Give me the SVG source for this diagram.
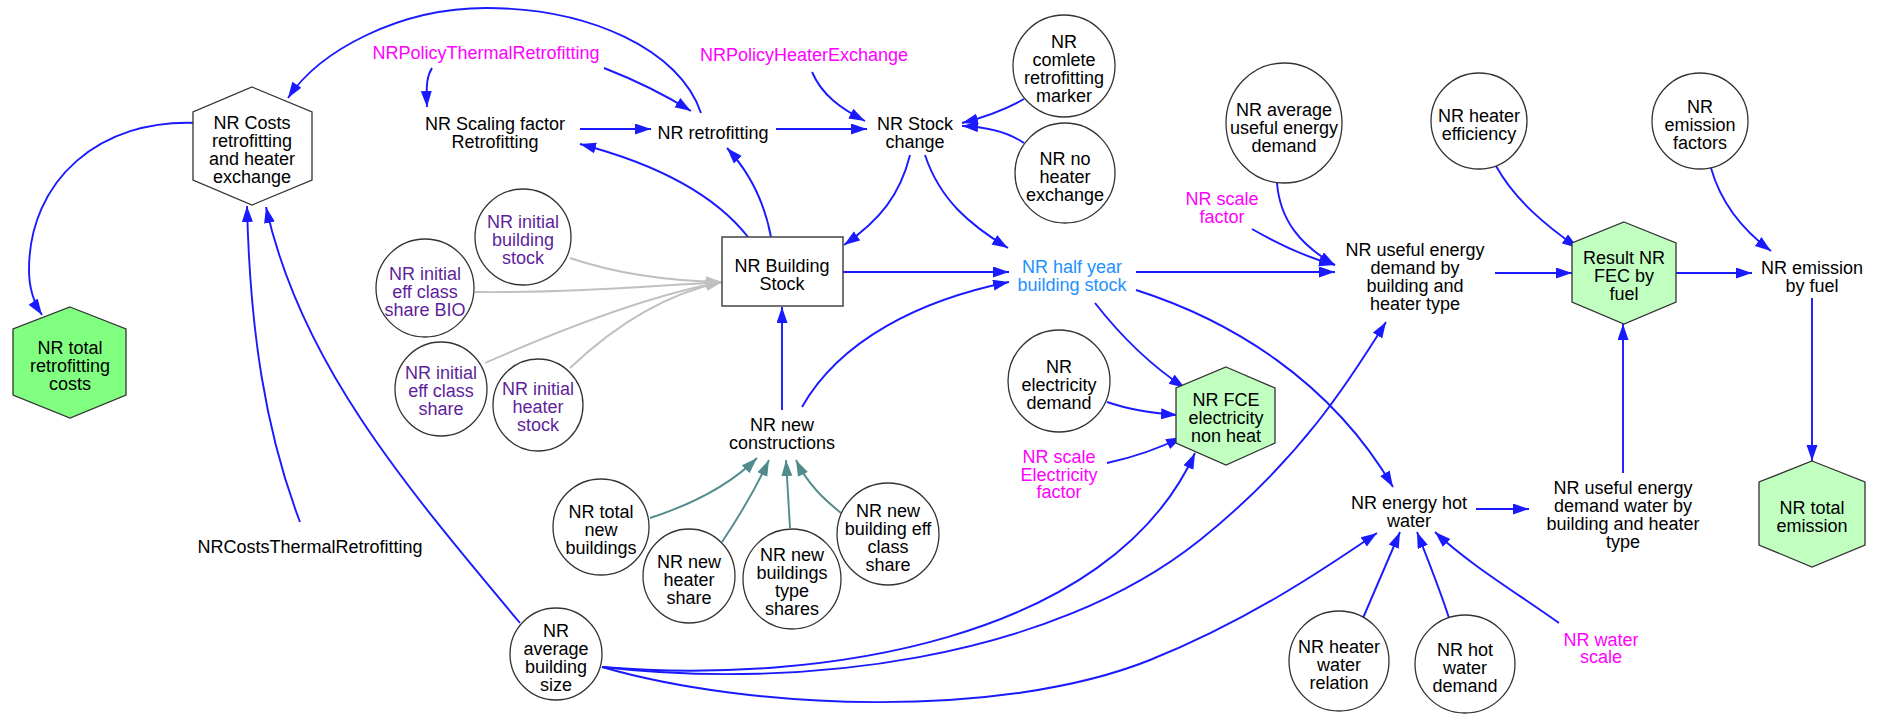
<svg xmlns="http://www.w3.org/2000/svg" width="1883" height="715" viewBox="0 0 1883 715">
<style>
text{font-family:"Liberation Sans",Arial,sans-serif;font-size:18px;text-anchor:middle;fill:#000}
.m{fill:#ff00ff}
.p{fill:#5e1f9c}
.lb{fill:#1e90ff}
.c{fill:#fff;stroke:#333;stroke-width:1.3}
.hw{fill:#fff;stroke:#333;stroke-width:1.3}
.hg{fill:#c1ffc1;stroke:#333;stroke-width:1.3}
.hb{fill:#80ff80;stroke:#333;stroke-width:1.3}
.e{fill:none;stroke:#1a1aff;stroke-width:1.9;marker-end:url(#ab)}
.g{fill:none;stroke:#c0c0c0;stroke-width:1.9;marker-end:url(#ag)}
.t{fill:none;stroke:#528b8b;stroke-width:1.9;marker-end:url(#at)}
</style>
<defs>
<marker id="ab" markerUnits="userSpaceOnUse" markerWidth="17" markerHeight="12" refX="16" refY="5.5" orient="auto"><path d="M0,0 L16,5.5 L0,11 z" fill="#1a1aff"/></marker>
<marker id="ag" markerUnits="userSpaceOnUse" markerWidth="17" markerHeight="12" refX="16" refY="5.5" orient="auto"><path d="M0,0 L16,5.5 L0,11 z" fill="#c0c0c0"/></marker>
<marker id="at" markerUnits="userSpaceOnUse" markerWidth="17" markerHeight="12" refX="16" refY="5.5" orient="auto"><path d="M0,0 L16,5.5 L0,11 z" fill="#528b8b"/></marker>
</defs>
<rect width="1883" height="715" fill="#fff"/>
<g id="edges">
<path class="e" d="M432,68 C427,76 426,84 427,107"/>
<path class="e" d="M604,68 C640,82 670,98 691,111"/>
<path class="e" d="M701,113 C680,50 590,8 486,8 C400,8 320,50 288,98"/>
<path class="e" d="M580,129 L651,129"/>
<path class="e" d="M748,237 C715,195 660,165 580,144"/>
<path class="e" d="M771,237 C765,205 752,175 727,148"/>
<path class="e" d="M776,129 L867,129"/>
<path class="e" d="M812,72 C822,95 840,108 865,121"/>
<path class="e" d="M1024,99 C1005,110 985,117 962,123"/>
<path class="e" d="M1024,143 C1008,132 988,127 962,126"/>
<path class="e" d="M910,155 C900,195 880,220 844,245"/>
<path class="e" d="M925,155 C940,200 970,225 1008,248"/>
<path class="e" d="M843,272 L1009,272"/>
<path class="e" d="M802,407 C840,340 920,300 1009,282"/>
<path class="e" d="M1136,272 L1335,272"/>
<path class="e" d="M1095,303 C1120,335 1150,365 1185,388"/>
<path class="e" d="M1136,290 C1230,320 1330,380 1393,487"/>
<path class="e" d="M1107,402 C1130,410 1150,413 1177,415"/>
<path class="e" d="M1107,463 C1135,457 1160,448 1182,437"/>
<path class="e" d="M602,667 C820,685 1110,640 1195,453"/>
<path class="e" d="M602,667 C800,690 1050,660 1200,540 C1300,460 1350,380 1386,322"/>
<path class="e" d="M602,667 C750,710 1000,720 1150,660 C1250,620 1330,565 1377,533"/>
<path class="e" d="M520,623 C400,480 300,360 266,207"/>
<path class="e" d="M300,522 C265,430 250,330 247,206"/>
<path class="e" d="M198,123 C100,118 29,180 29,270 C29,290 34,303 42,315"/>
<path class="g" d="M570,258 C620,275 670,281 722,282"/>
<path class="g" d="M475,292 C560,293 640,287 722,282"/>
<path class="g" d="M485,363 C560,330 650,295 722,282"/>
<path class="g" d="M570,368 C610,330 660,295 722,282"/>
<path class="t" d="M650,518 C690,505 730,485 757,458"/>
<path class="t" d="M722,542 C740,515 755,490 769,460"/>
<path class="t" d="M790,528 L786,460"/>
<path class="t" d="M841,513 C825,500 808,485 796,460"/>
<path class="e" d="M782,410 L782,307"/>
<path class="e" d="M1277,183 C1280,220 1300,245 1335,265"/>
<path class="e" d="M1252,229 C1280,245 1305,257 1335,265"/>
<path class="e" d="M1495,273 L1572,273"/>
<path class="e" d="M1496,166 C1515,200 1545,225 1578,248"/>
<path class="e" d="M1676,273 L1752,273"/>
<path class="e" d="M1711,168 C1720,200 1740,228 1771,251"/>
<path class="e" d="M1812,298 L1812,461"/>
<path class="e" d="M1623,473 L1623,324"/>
<path class="e" d="M1476,509 L1529,509"/>
<path class="e" d="M1363,618 C1375,590 1388,560 1400,532"/>
<path class="e" d="M1449,618 C1440,590 1428,560 1417,532"/>
<path class="e" d="M1559,623 C1520,595 1470,565 1435,532"/>
</g>
<g id="n_costs"><polygon class="hw" points="252,87 312,112 312,180 252,205 193,180 193,112"/><text x="252" y="129">NR Costs</text><text x="252" y="147">retrofitting</text><text x="252" y="165">and heater</text><text x="252" y="183">exchange</text></g>
<g id="n_totalretro"><polygon class="hb" points="70,307 126,329 126,395 70,418 13,395 13,329"/><text x="70" y="354">NR total</text><text x="70" y="372">retrofitting</text><text x="70" y="390">costs</text></g>
<g id="n_policythermal"><text class="m" x="486" y="59">NRPolicyThermalRetrofitting</text></g>
<g id="n_scaling"><text x="495" y="130">NR Scaling factor</text><text x="495" y="148">Retrofitting</text></g>
<g id="n_retrofitting"><text x="713" y="139">NR retrofitting</text></g>
<g id="n_policyheater"><text class="m" x="804" y="61">NRPolicyHeaterExchange</text></g>
<g id="n_stockchange"><text x="915" y="130">NR Stock</text><text x="915" y="148">change</text></g>
<g id="n_complete"><ellipse class="c" cx="1064" cy="66" rx="51" ry="51"/><text x="1064" y="48">NR</text><text x="1064" y="66">comlete</text><text x="1064" y="84">retrofitting</text><text x="1064" y="102">marker</text></g>
<g id="n_noheater"><ellipse class="c" cx="1065" cy="173" rx="50" ry="50"/><text x="1065" y="165">NR no</text><text x="1065" y="183">heater</text><text x="1065" y="201">exchange</text></g>
<g id="n_buildingstock"><rect x="722" y="237" width="121" height="69" fill="#fff" stroke="#444" stroke-width="1.5"/><text x="782" y="272">NR Building</text><text x="782" y="290">Stock</text></g>
<g id="n_halfyear"><text class="lb" x="1072" y="273">NR half year</text><text class="lb" x="1072" y="291">building stock</text></g>
<g id="n_elecdemand"><ellipse class="c" cx="1059" cy="381" rx="51" ry="51"/><text x="1059" y="373">NR</text><text x="1059" y="391">electricity</text><text x="1059" y="409">demand</text></g>
<g id="n_fce"><polygon class="hg" points="1226,367 1275,388 1275,443 1226,465 1176,443 1176,388"/><text x="1226" y="406">NR FCE</text><text x="1226" y="424">electricity</text><text x="1226" y="442">non heat</text></g>
<g id="n_scaleelec"><text class="m" x="1059" y="463">NR scale</text><text class="m" x="1059" y="481">Electricity</text><text class="m" x="1059" y="498">factor</text></g>
<g id="n_scalefactor"><text class="m" x="1222" y="205">NR scale</text><text class="m" x="1222" y="223">factor</text></g>
<g id="n_avguseful"><ellipse class="c" cx="1284" cy="123" rx="58" ry="60"/><text x="1284" y="116">NR average</text><text x="1284" y="134">useful energy</text><text x="1284" y="152">demand</text></g>
<g id="n_usefulbybuilding"><text x="1415" y="256">NR useful energy</text><text x="1415" y="274">demand by</text><text x="1415" y="292">building and</text><text x="1415" y="310">heater type</text></g>
<g id="n_heatereff"><ellipse class="c" cx="1479" cy="121" rx="48" ry="48"/><text x="1479" y="122">NR heater</text><text x="1479" y="140">efficiency</text></g>
<g id="n_fec"><polygon class="hg" points="1624,222 1676,243 1676,302 1624,324 1572,302 1572,243"/><text x="1624" y="264">Result NR</text><text x="1624" y="282">FEC by</text><text x="1624" y="300">fuel</text></g>
<g id="n_emfactors"><ellipse class="c" cx="1700" cy="121" rx="48" ry="48"/><text x="1700" y="113">NR</text><text x="1700" y="131">emission</text><text x="1700" y="149">factors</text></g>
<g id="n_emission"><text x="1812" y="274">NR emission</text><text x="1812" y="292">by fuel</text></g>
<g id="n_totalemission"><polygon class="hg" points="1812,461 1865,482 1865,545 1812,567 1759,545 1759,482"/><text x="1812" y="514">NR total</text><text x="1812" y="532">emission</text></g>
<g id="n_usefulwater"><text x="1623" y="494">NR useful energy</text><text x="1623" y="512">demand water by</text><text x="1623" y="530">building and heater</text><text x="1623" y="548">type</text></g>
<g id="n_hotwater"><text x="1409" y="509">NR energy hot</text><text x="1409" y="527">water</text></g>
<g id="n_heaterwater"><ellipse class="c" cx="1339" cy="661" rx="50" ry="50"/><text x="1339" y="653">NR heater</text><text x="1339" y="671">water</text><text x="1339" y="689">relation</text></g>
<g id="n_hotwaterdemand"><ellipse class="c" cx="1465" cy="664" rx="50" ry="49"/><text x="1465" y="656">NR hot</text><text x="1465" y="674">water</text><text x="1465" y="692">demand</text></g>
<g id="n_waterscale"><text class="m" x="1601" y="646">NR water</text><text class="m" x="1601" y="663">scale</text></g>
<g id="n_initbuilding"><ellipse class="c" cx="523" cy="237" rx="48" ry="48"/><text class="p" x="523" y="228">NR initial</text><text class="p" x="523" y="246">building</text><text class="p" x="523" y="264">stock</text></g>
<g id="n_initeffbio"><ellipse class="c" cx="425" cy="288" rx="49" ry="49"/><text class="p" x="425" y="280">NR initial</text><text class="p" x="425" y="298">eff class</text><text class="p" x="425" y="316">share BIO</text></g>
<g id="n_initeff"><ellipse class="c" cx="441" cy="389" rx="46" ry="47"/><text class="p" x="441" y="379">NR initial</text><text class="p" x="441" y="397">eff class</text><text class="p" x="441" y="415">share</text></g>
<g id="n_initheater"><ellipse class="c" cx="538" cy="405" rx="45" ry="46"/><text class="p" x="538" y="395">NR initial</text><text class="p" x="538" y="413">heater</text><text class="p" x="538" y="431">stock</text></g>
<g id="n_newconstr"><text x="782" y="431">NR new</text><text x="782" y="449">constructions</text></g>
<g id="n_totalnew"><ellipse class="c" cx="601" cy="527" rx="48" ry="48"/><text x="601" y="518">NR total</text><text x="601" y="536">new</text><text x="601" y="554">buildings</text></g>
<g id="n_newheater"><ellipse class="c" cx="689" cy="576" rx="46" ry="47"/><text x="689" y="568">NR new</text><text x="689" y="586">heater</text><text x="689" y="604">share</text></g>
<g id="n_newtype"><ellipse class="c" cx="792" cy="579" rx="49" ry="50"/><text x="792" y="561">NR new</text><text x="792" y="579">buildings</text><text x="792" y="597">type</text><text x="792" y="615">shares</text></g>
<g id="n_neweff"><ellipse class="c" cx="888" cy="534" rx="51" ry="51"/><text x="888" y="517">NR new</text><text x="888" y="535">building eff</text><text x="888" y="553">class</text><text x="888" y="571">share</text></g>
<g id="n_coststhermal"><text x="310" y="553">NRCostsThermalRetrofitting</text></g>
<g id="n_avgsize"><ellipse class="c" cx="556" cy="654" rx="46" ry="46"/><text x="556" y="637">NR</text><text x="556" y="655">average</text><text x="556" y="673">building</text><text x="556" y="691">size</text></g>
</svg>
